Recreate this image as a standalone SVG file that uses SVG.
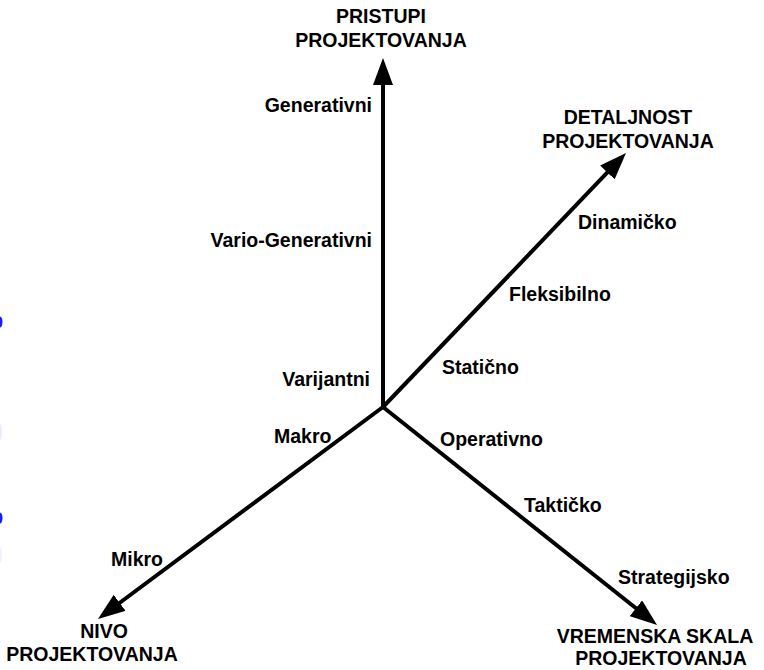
<svg xmlns="http://www.w3.org/2000/svg" width="764" height="670" viewBox="0 0 764 670">
<style>
.ax{stroke:#000;stroke-width:4;fill:none;marker-end:url(#ah)}
.h{font-family:"Liberation Sans",Arial,sans-serif;font-weight:bold;font-size:19.5px;fill:#000;text-anchor:middle}
.l{font-family:"Liberation Sans",Arial,sans-serif;font-weight:bold;font-size:19.5px;fill:#000}
.r{text-anchor:end}
</style>
<defs>
<marker id="ah" markerUnits="userSpaceOnUse" markerWidth="27" markerHeight="20" refX="17" refY="10" orient="auto" viewBox="0 0 27 20">
<path d="M0,0 L27,10 L0,20 z" fill="#000"/>
</marker>
</defs>
<rect width="764" height="670" fill="#fff"/>
<g id="edge-marks">
<ellipse cx="0" cy="322" rx="2.5" ry="5.5" fill="#1a1aff"/>
<ellipse cx="0" cy="518" rx="2.5" ry="5.5" fill="#1a1aff"/>
<ellipse cx="0" cy="432" rx="2" ry="8" fill="#ececff"/>
<ellipse cx="0" cy="555" rx="2" ry="8" fill="#f0f0ff"/>
</g>
<g id="connectors">
<line class="ax" x1="383" y1="407" x2="383" y2="68"/>
<line class="ax" x1="383" y1="407" x2="619.1" y2="160.2"/>
<line class="ax" x1="383" y1="407" x2="106" y2="613"/>
<line class="ax" x1="383" y1="407" x2="649.2" y2="618.8"/>
</g>
<g id="axis-pristupi">
<text class="h" x="381" y="23">PRISTUPI</text>
<text class="h" x="381" y="47">PROJEKTOVANJA</text>
<text class="l r" x="372" y="112">Generativni</text>
<text class="l r" x="372" y="247">Vario-Generativni</text>
<text class="l r" x="370" y="386">Varijantni</text>
</g>
<g id="axis-detaljnost">
<text class="h" x="628" y="124">DETALJNOST</text>
<text class="h" x="628" y="148">PROJEKTOVANJA</text>
<text class="l" x="578" y="229">Dinamičko</text>
<text class="l" x="509" y="301">Fleksibilno</text>
<text class="l" x="442" y="374">Statično</text>
</g>
<g id="axis-nivo">
<text class="h" x="104" y="638">NIVO</text>
<text class="h" x="92" y="661">PROJEKTOVANJA</text>
<text class="l" x="274" y="443">Makro</text>
<text class="l" x="111" y="566">Mikro</text>
</g>
<g id="axis-vremenska">
<text class="h" x="655" y="643">VREMENSKA SKALA</text>
<text class="h" x="661" y="665">PROJEKTOVANJA</text>
<text class="l" x="440" y="446">Operativno</text>
<text class="l" x="524" y="512">Taktičko</text>
<text class="l" x="618" y="584">Strategijsko</text>
</g>
</svg>
